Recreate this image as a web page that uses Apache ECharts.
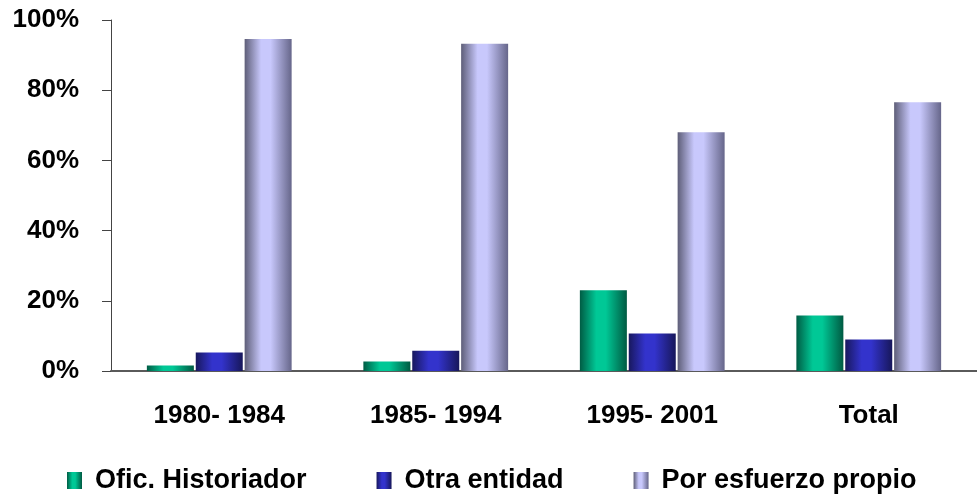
<!DOCTYPE html>
<html>
<head>
<meta charset="utf-8">
<script src="https://cdn.jsdelivr.net/npm/echarts@6/dist/echarts.min.js"></script>
<style>
    html, body { margin: 0; padding: 0; background: #fff; }
    #chart { width: 977px; height: 497px; }
</style>
</head>
<body>
<div id="chart"></div>
<script>
// 数据
const categories = ['1980- 1984', '1985- 1994', '1995- 2001', 'Total'];
const oficHistoriador = [1.6, 2.7, 23.0, 15.8];
const otraEntidad = [5.3, 5.8, 10.7, 9.0];
const esfuerzoPropio = [94.6, 93.2, 68.0, 76.6];
const yTicks = [0, 20, 40, 60, 80, 100];

const fontFamily = 'Arial, "Liberation Sans", sans-serif';

// 横向渐变，模拟圆柱效果
function barGradient(edge, light, edge2) {
    return new echarts.graphic.LinearGradient(0, 0, 1, 0, [
        { offset: 0, color: edge },
        { offset: 0.35, color: light },
        { offset: 0.55, color: light },
        { offset: 1, color: edge2 }
    ]);
}

const greenColor = barGradient('#005c44', '#00c896', '#005a42');
const blueColor = barGradient('#18185e', '#3333cc', '#17175a');
const purpleColor = barGradient('#5e5e78', '#c8c8fc', '#66668a');

let chart = echarts.init(document.getElementById('chart'));

function makeSeries(name, data, color) {
    return {
        name: name,
        type: 'bar',
        data: data,
        barWidth: 47,
        barGap: '4%',
        itemStyle: { color: color },
        emphasis: { disabled: true }
    };
}

chart.setOption({
    backgroundColor: '#fff',
    animation: false,
    textStyle: { fontFamily: fontFamily },
    grid: { left: 111, top: 20, width: 876, bottom: 126 },
    legend: {
        left: 67,
        top: 467,
        padding: 0,
        itemWidth: 15,
        itemHeight: 17,
        itemGap: 70,
        icon: 'rect',
        textStyle: {
            fontFamily: fontFamily,
            fontSize: 27,
            fontWeight: 'bold',
            color: '#000',
            padding: [0, 0, 0, 8]
        },
        data: ['Ofic. Historiador', 'Otra entidad', 'Por esfuerzo propio']
    },
    xAxis: {
        type: 'category',
        data: categories,
        axisLine: { lineStyle: { color: '#5a5a5a', width: 2 } },
        axisTick: { length: 10, lineStyle: { color: '#000', width: 1 } },
        axisLabel: {
            margin: 32,
            fontFamily: fontFamily,
            fontSize: 26,
            fontWeight: 'bold',
            color: '#000'
        }
    },
    yAxis: {
        type: 'value',
        min: yTicks[0],
        max: yTicks[yTicks.length - 1],
        interval: 20,
        splitLine: { show: false },
        axisLine: { show: true, lineStyle: { color: '#444', width: 1 } },
        axisTick: { show: true, length: 9, lineStyle: { color: '#444' } },
        axisLabel: {
            margin: 32,
            formatter: '{value}%',
            fontFamily: fontFamily,
            fontSize: 26,
            fontWeight: 'bold',
            color: '#000'
        }
    },
    series: [
        makeSeries('Ofic. Historiador', oficHistoriador, greenColor),
        makeSeries('Otra entidad', otraEntidad, blueColor),
        makeSeries('Por esfuerzo propio', esfuerzoPropio, purpleColor)
    ]
});
</script>
</body>
</html>
